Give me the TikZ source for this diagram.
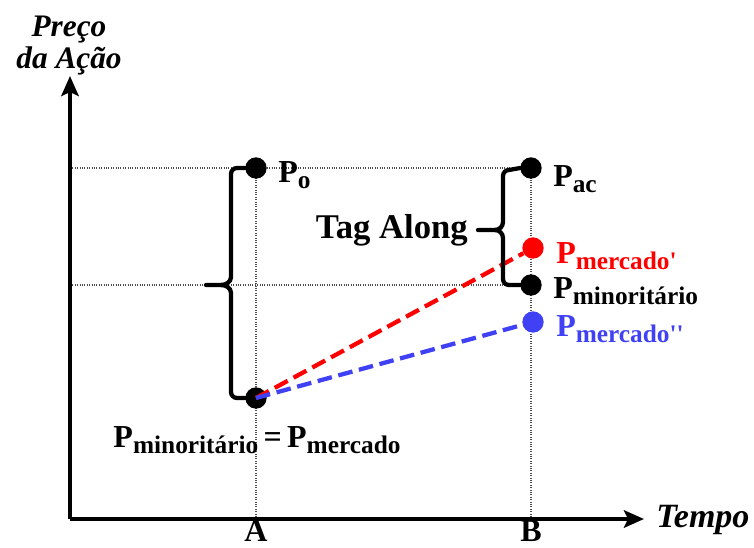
\documentclass[tikz,border=0pt]{standalone}
\usepackage{fontspec}
\setmainfont{Liberation Serif}
\usetikzlibrary{arrows.meta,positioning,backgrounds}
\definecolor{mktred}{RGB}{255,0,0}
\definecolor{mktblue}{RGB}{64,64,245}
\newcommand{\Psub}[1]{P\raisebox{-4.5pt}{\fontsize{19}{20}\selectfont #1}}
\newcommand{\prm}{\textquotesingle}

\begin{document}
\begin{tikzpicture}[x=0.75pt, y=-0.75pt,
  axis/.style={line width=3pt, -{Stealth[length=15pt, width=13pt, inset=3pt]}},
  guide/.style={line width=0.8pt, densely dotted, black!70},
  dot/.style={circle, fill=#1, inner sep=0pt, minimum size=16pt},
  dot/.default=black,
  brace/.style={line width=3.2pt, line cap=round},
  dash/.style={line width=3.2pt, dash pattern=on 11pt off 5pt, #1},
  lbl/.style={font=\fontsize{24}{26}\selectfont\bfseries, inner sep=0pt},
  axlbl/.style={font=\fontsize{23.5}{25}\selectfont\bfseries\itshape, inner sep=0pt, align=center}
]
  \useasboundingbox (0,0) rectangle (754,547);

  \coordinate (o) at (70,519);
  \draw[axis] (o) -- (70,76);
  \draw[axis] (o) -- (644,519);
  \node[axlbl, anchor=north] (yname) at (69,16) {Preço\\[-1pt]da Ação};
  \node[axlbl, font=\fontsize{25.5}{27}\selectfont\bfseries\itshape, anchor=base west] (xname) at (656,527) {Tempo};
  \node[lbl, anchor=base] (ta) at (256,541) {A};
  \node[lbl, anchor=base] (tb) at (531,541) {B};

  % price points
  \node[dot] (po)   at (256,168) {};
  \node[dot] (pa)   at (256,398) {};
  \node[dot] (pac)  at (531,168) {};
  \node[dot=mktred]  (pm1)  at (533,248) {};
  \node[dot] (pmin) at (531,285) {};
  \node[dot=mktblue] (pm2)  at (533,322) {};

  \begin{scope}[on background layer]
    \draw[guide] (o |- po) -- (pac.center);
    \draw[guide] (o |- pmin) -- (pmin.center);
    \draw[guide] (po.center) -- (po |- o);
    \draw[guide] (pac.center) -- (pac |- o);
  \end{scope}

  \draw[dash=mktred] (pa.center) -- (pm1);
  \draw[dash=mktblue] (pa.center) -- (pm2);

  % braces
  \draw[brace] (po.west) -- (237,168) to[out=180,in=90] (231,174) -- (231,277) to[out=-90,in=0] (221,285) -- (206,285);
  \draw[brace] (pa.west) -- (237,398) to[out=180,in=-90] (231,392) -- (231,293) to[out=90,in=0] (221,285);
  \draw[brace] (pac.west) -- (509,170) to[out=180,in=90] (503,176) -- (503,222) to[out=-90,in=0] (495,230) -- (478,230);
  \draw[brace] (pmin.west) -- (509,285) to[out=180,in=-90] (503,279) -- (503,238) to[out=90,in=0] (495,230);
  \node[lbl, font=\fontsize{26}{28}\selectfont\bfseries, anchor=east] (tag) at (468,230) {Tag Along};

  % labels
  \node[lbl, anchor=base west] (lpo)   at (278,182) {\Psub{o}};
  \node[lbl, anchor=base west] (lpac)  at (553,186) {\Psub{ac}};
  \node[lbl, anchor=base west, mktred]  (lpm1) at (556,263) {\Psub{mercado\prm}};
  \node[lbl, anchor=base west] (lpmin) at (553,298) {\Psub{minoritário}};
  \node[lbl, anchor=base west, mktblue] (lpm2) at (556,336) {\Psub{mercado\prm\prm}};
  \node[lbl, anchor=base] (lpa) at (257,447) {\Psub{minoritário}\,=\,\Psub{mercado}};
\end{tikzpicture}
\end{document}
